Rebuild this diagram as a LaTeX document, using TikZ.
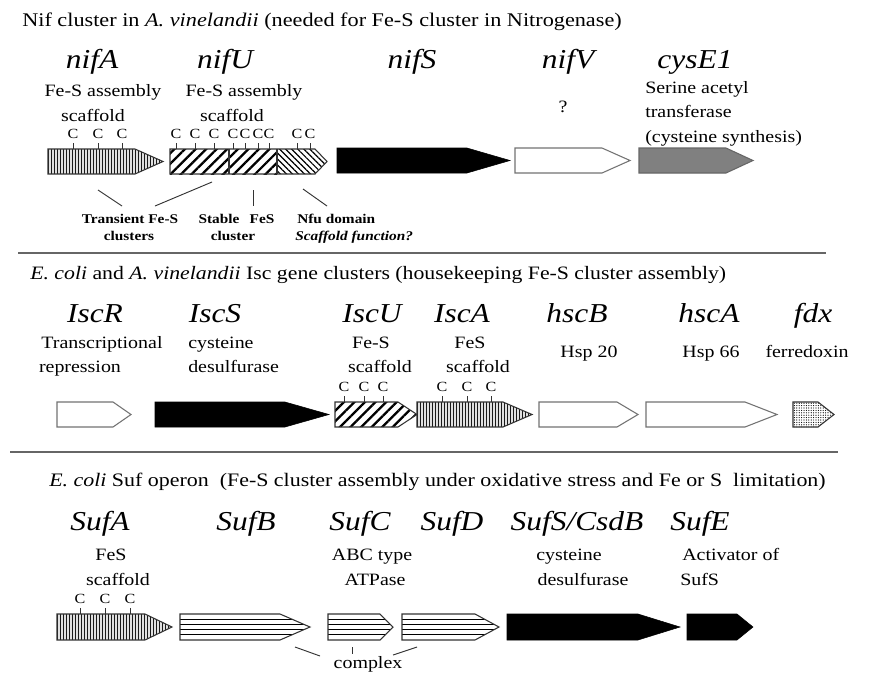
\documentclass[tikz,border=0pt]{standalone}
\usepackage{fontspec}
\setmainfont{Liberation Serif}[FakeStretch=1.15]
\usetikzlibrary{patterns.meta}
\newcommand\genearrow[6]{\path[#1] (#2,#5) -- (#3,#5) -- (#4,{(#5+#6)/2}) -- (#3,#6) -- (#2,#6) -- cycle;}
\newcommand\hstripe[5]{%
  \begin{scope}
    \clip (#1,#4) -- (#2,#4) -- (#3,{(#4+#5)/2}) -- (#2,#5) -- (#1,#5) -- cycle;
    \foreach \k in {1,2,3,4} {\draw[stripe] (#1,{#4+\k*(#5-#4)/5}) -- (#3,{#4+\k*(#5-#4)/5});}
  \end{scope}
  \genearrow{outl}{#1}{#2}{#3}{#4}{#5}}
\newcommand\vstripe[5]{%
  \begin{scope}
    \clip (#1,#4) -- (#2,#4) -- (#3,{(#4+#5)/2}) -- (#2,#5) -- (#1,#5) -- cycle;
    \fill[black!12] (#1,#4) rectangle (#3,#5);
    \foreach \xx in {0,3,...,129} {\draw[vstr] ({#1+\xx+0.5},#4) -- ({#1+\xx+0.5},#5);}
  \end{scope}
  \genearrow{outl}{#1}{#2}{#3}{#4}{#5}}
\newcommand\cysC[3]{\draw[tickline] (#1,#2) -- (#1,#2-6); \node[cl] (c-#1-#2) at (#1,#3) {C};}
\begin{document}
\begin{tikzpicture}[x=0.75pt,y=-0.75pt,
  outl/.style={draw=black!80, line width=0.8pt},
  stripe/.style={draw=black, line width=0.8pt},
  vstr/.style={draw=black!90, line width=0.8pt},
  hatch/.style={pattern={Lines[angle=45,distance=5.6pt,line width=1.7pt]}},
  nfu/.style={pattern={Lines[angle=-45,distance=3.2pt,line width=0.9pt]}},
  dotted fill/.style={outl, pattern={Dots[distance=1.8pt,radius=0.45pt]}},
  blackarrow/.style={fill=black, draw=black},
  whitearrow/.style={fill=white, draw=black!55, line width=0.8pt},
  greyarrow/.style={fill=black!50, draw=black!60, line width=0.8pt},
  tickline/.style={draw=black!80, line width=0.6pt},
  sep/.style={draw=black!60, line width=1.5pt},
  conn/.style={draw=black!80, line width=0.7pt},
  title/.style={font=\fontsize{14.5}{17}\selectfont, anchor=base west, inner sep=0},
  gname/.style={font=\fontsize{20.5}{24}\selectfont\itshape, anchor=base, inner sep=0},
  desc/.style={font=\fontsize{13}{15}\selectfont, anchor=base, inner sep=0},
  descl/.style={desc, anchor=base west},
  cl/.style={font=\fontsize{10.5}{12}\selectfont, anchor=base, inner sep=0},
  bl/.style={font=\fontsize{10}{12}\selectfont\bfseries, anchor=base, inner sep=0},
  bll/.style={bl, anchor=base west}]
\useasboundingbox (0,0) rectangle (870,672);
\fill[white] (0,0) rectangle (870,672);
% ---------------- Section 1 ----------------
\node[title] (t1) at (22,26) {Nif cluster in \textit{A. vinelandii} (needed for Fe-S cluster in Nitrogenase)};
\node[gname] (nifA) at (92,68) {nifA};
\node[gname] (nifU) at (225,68) {nifU};
\node[gname] (nifS) at (412,68) {nifS};
\node[gname] (nifV) at (568,68) {nifV};
\node[gname] (cysE) at (695,68) {cysE1};
\node[desc] (dA1) at (103,96) {Fe-S assembly};
\node[desc] (dA2) at (93,121) {scaffold};
\node[desc] (dU1) at (244,96) {Fe-S assembly};
\node[desc] (dU2) at (232,121) {scaffold};
\node[desc] (dV) at (563,112) {?};
\node[descl] (dE1) at (645,93) {Serine acetyl};
\node[descl] (dE2) at (645,117) {transferase};
\node[descl] (dE3) at (645,142) {(cysteine synthesis)};
% arrows
\vstripe{48}{135}{163}{149}{174}
\path[hatch] (170,149) rectangle (277,174);
\path[nfu] (277,149) -- (315,149) -- (327,161.5) -- (315,174) -- (277,174) -- cycle;
\genearrow{outl}{170}{315}{327}{149}{174}
\draw[outl] (229,149) -- (229,174) (277,149) -- (277,174);
\genearrow{blackarrow}{337}{467}{510}{148}{173}
\genearrow{whitearrow}{515}{602}{630}{148}{173}
\genearrow{greyarrow}{639}{726}{753}{148}{173}
\foreach \x in {73,98,122} {\cysC{\x}{149}{138}}
\foreach \x in {176,195,214,233,245,258,269,297,310} {\cysC{\x}{149}{138}}
% connectors and bold labels
\draw[conn] (98,190) -- (122,206);
\draw[conn] (155,206) -- (212,182);
\draw[conn] (253,190) -- (253,206);
\draw[conn] (303,189) -- (327,206);
\node[bl] (b1) at (130,223) {Transient Fe-S};
\node[bl] (b2) at (129,240) {clusters};
\node[bl] (b3) at (219,223) {Stable};
\node[bl] (b4) at (233,240) {cluster};
\node[bl] (b5) at (262,223) {FeS};
\node[bll] (b6) at (297,223) {Nfu domain};
\node[bll] (b7) at (295,240) {\itshape Scaffold function?};
\draw[sep] (18,253) -- (826,253);
% ---------------- Section 2 ----------------
\node[title, font=\fontsize{14.2}{17}\selectfont] (t2) at (30,279) {\textit{E. coli} and \textit{A. vinelandii} Isc gene clusters (housekeeping Fe-S cluster assembly)};
\node[gname] (IscR) at (95,322) {IscR};
\node[gname] (IscS) at (215,322) {IscS};
\node[gname] (IscU) at (372,322) {IscU};
\node[gname] (IscA) at (462,322) {IscA};
\node[gname] (hscB) at (577,322) {hscB};
\node[gname] (hscA) at (709,322) {hscA};
\node[gname] (fdx) at (813,322) {fdx};
\node[desc] (dR1) at (102,348) {Transcriptional};
\node[desc] (dR2) at (80,372) {repression};
\node[descl] (dS1) at (188,348) {cysteine};
\node[descl] (dS2) at (188,372) {desulfurase};
\node[desc] (dIU1) at (371,348) {Fe-S};
\node[desc] (dIU2) at (380,372) {scaffold};
\node[desc] (dIA1) at (470,348) {FeS};
\node[desc] (dIA2) at (478,372) {scaffold};
\node[desc] (dhB) at (589,357) {Hsp 20};
\node[desc] (dhA) at (711,357) {Hsp 66};
\node[desc] (dfd) at (807,357) {ferredoxin};
\genearrow{whitearrow}{57}{113}{131}{402}{427}
\genearrow{blackarrow}{155}{285}{329}{402}{427}
\path[hatch] (335,402) -- (398,402) -- (417,414.5) -- (398,427) -- (335,427) -- cycle;
\genearrow{outl}{335}{398}{417}{402}{427}
\vstripe{417}{503}{532}{402}{427}
\genearrow{whitearrow}{539}{617}{638}{402}{427}
\genearrow{whitearrow}{646}{745}{777}{402}{427}
\genearrow{dotted fill}{793}{818}{834}{402}{427}
\foreach \x in {344,364,383,442,467,491} {\cysC{\x}{402}{391}}
\draw[sep] (10,452) -- (838,452);
% ---------------- Section 3 ----------------
\node[title, font=\fontsize{14.3}{17}\selectfont] (t3) at (49,486) {\textit{E. coli} Suf operon\ \ (Fe-S cluster assembly under oxidative stress and Fe or S\ \ limitation)};
\node[gname] (SufA) at (100,530) {SufA};
\node[gname] (SufB) at (246,530) {SufB};
\node[gname] (SufC) at (360,530) {SufC};
\node[gname] (SufD) at (452,530) {SufD};
\node[gname] (SufS) at (577,530) {SufS/CsdB};
\node[gname] (SufE) at (700,530) {SufE};
\node[desc] (dSA1) at (111,560) {FeS};
\node[desc] (dSA2) at (118,585) {scaffold};
\node[desc] (dSC1) at (372,560) {ABC type};
\node[desc] (dSC2) at (375,585) {ATPase};
\node[desc] (dSS1) at (569,560) {cysteine};
\node[desc] (dSS2) at (583,585) {desulfurase};
\node[descl] (dSE1) at (682,560) {Activator of};
\node[descl] (dSE2) at (680,585) {SufS};
\vstripe{57}{145}{172}{614}{640}
\hstripe{180}{280}{310}{614}{640}
\hstripe{328}{380}{393}{614}{640}
\hstripe{402}{475}{499}{614}{640}
\genearrow{blackarrow}{507}{638}{680}{614}{640}
\genearrow{blackarrow}{687}{737}{753}{614}{640}
\foreach \x in {80,105,130} {\cysC{\x}{614}{603}}
\draw[conn] (295,647) -- (320,656);
\draw[conn] (352,647) -- (352,654);
\draw[conn] (393,655) -- (417,647);
\node[desc] (cx) at (368,668) {complex};
\end{tikzpicture}
\end{document}
